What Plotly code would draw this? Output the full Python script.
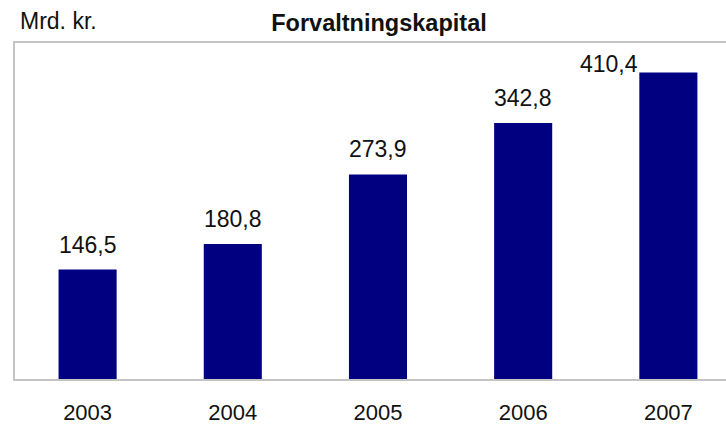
import plotly.graph_objects as go

years = ["2003", "2004", "2005", "2006", "2007"]
values = [146.5, 180.8, 273.9, 342.8, 410.4]
title_text = "Forvaltningskapital"
unit_text = "Mrd. kr."

FONT = "Liberation Sans, Arial, sans-serif"
BAR = "#000080"
GRID = "#c4c4c4"
FS = 23

def fmt(v):
    return f"{v:.1f}".replace(".", ",")

fig = go.Figure()
fig.add_trace(go.Bar(
    x=years, y=values, width=0.4,
    marker=dict(color=BAR, line=dict(width=0)),
    hoverinfo="skip",
))

annotations = []
for i, (yr, v) in enumerate(zip(years, values)):
    if i == len(years) - 1:
        annotations.append(dict(x=i, y=v, xref="x", yref="y", text=fmt(v),
                                showarrow=False, xanchor="right", yanchor="bottom",
                                xshift=-28, yshift=-6,
                                font=dict(family=FONT, size=FS, color="#111111")))
    else:
        annotations.append(dict(x=i, y=v, xref="x", yref="y", text=fmt(v),
                                showarrow=False, xanchor="center", yanchor="bottom",
                                yshift=10,
                                font=dict(family=FONT, size=FS, color="#111111")))

annotations.append(dict(x=0, y=1, xref="paper", yref="paper", text=unit_text,
                        showarrow=False, xanchor="left", yanchor="middle",
                        xshift=3, yshift=22,
                        font=dict(family=FONT, size=FS, color="#111111")))

fig.update_layout(
    width=726, height=425,
    margin=dict(l=15, r=0, t=43, b=46),
    paper_bgcolor="white", plot_bgcolor="white",
    showlegend=False,
    title=dict(text=f"<b>{title_text}</b>", x=379/726, xref="container", xanchor="center",
               y=1 - 23/425, yref="container", yanchor="middle",
               font=dict(family=FONT, size=23.5, color="#111111")),
    annotations=annotations,
    xaxis=dict(type="category", range=[-0.5, 4.397],
               showline=True, linecolor=GRID, linewidth=2, mirror=True,
               showgrid=False, zeroline=False,
               ticks="outside", ticklen=13, tickcolor="rgba(0,0,0,0)",
               tickfont=dict(family=FONT, size=22, color="#111111"),
               automargin=False),
    yaxis=dict(range=[0, 450], showline=True, linecolor=GRID, linewidth=2,
               showgrid=False, zeroline=False, showticklabels=False, ticks="",
               automargin=False),
)

fig.write_html("out.html", config={"displayModeBar": False},
               post_script="document.body.style.margin='0';document.body.style.overflow='hidden';")
